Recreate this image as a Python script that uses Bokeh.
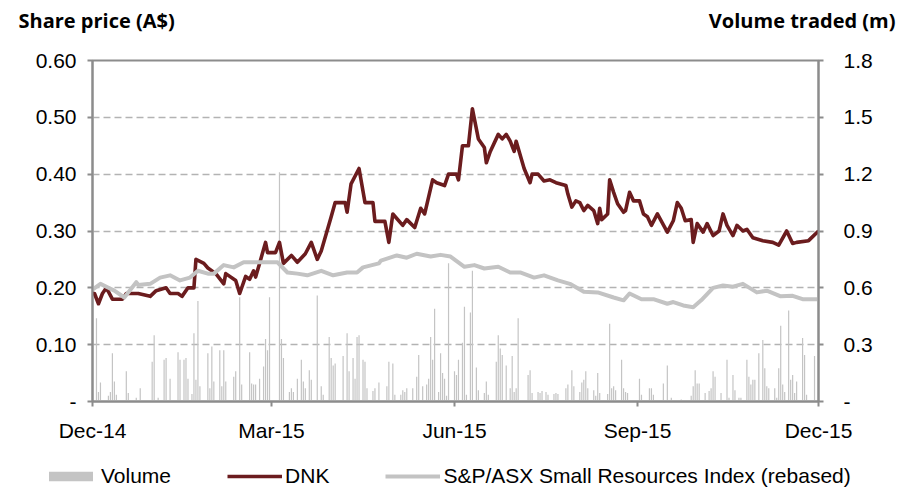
import pandas as pd
from bokeh.plotting import figure
from bokeh.layouts import column
from bokeh.core.properties import value
from bokeh.models import (Range1d, LinearAxis, FixedTicker, DatetimeTickFormatter,
                          PrintfTickFormatter, Legend, LegendItem, ColumnDataSource)
from bokeh.embed import file_html
from bokeh.resources import INLINE

# ---------------- data (days counted from 1 Dec 2014) ----------------
START = "2014-12-01"

dnk_day = [0, 1, 3, 5, 7, 10, 15, 17, 23, 29, 32, 37, 39, 43, 45, 48, 51, 52, 56, 58,
           62, 66, 67, 72, 74, 77, 79, 81, 82, 84, 87, 88, 92, 94, 96, 100, 103, 107, 110, 113,
           115, 120, 122, 127, 128, 130, 134, 137, 141, 142, 147, 149, 151, 156, 158, 162, 165, 167, 171, 173,
           177, 179, 183, 184, 186, 189, 191, 194, 197, 198, 200, 204, 206, 208, 210, 212, 213, 217, 220, 221,
           224, 227, 230, 233, 238, 239, 241, 243, 245, 247, 249, 252, 254, 255, 256, 259, 260, 262, 264, 267,
           268, 270, 272, 275, 277, 279, 281, 284, 289, 292, 294, 296, 298, 301, 302, 304, 307, 309, 312, 315,
           317, 319, 322, 324, 327, 329, 332, 337, 342, 345, 349, 352, 354, 360, 365]
dnk_price = [0.19, 0.19, 0.172, 0.19, 0.20, 0.18, 0.18, 0.19, 0.19, 0.185, 0.195, 0.20, 0.19, 0.19, 0.185, 0.20, 0.20, 0.25, 0.243, 0.235,
             0.225, 0.207, 0.225, 0.213, 0.19, 0.22, 0.215, 0.23, 0.219, 0.243, 0.28, 0.262, 0.262, 0.28, 0.243, 0.257, 0.245, 0.26, 0.28, 0.25,
             0.265, 0.325, 0.35, 0.35, 0.333, 0.383, 0.41, 0.35, 0.35, 0.317, 0.317, 0.28, 0.33, 0.31, 0.32, 0.306, 0.34, 0.33, 0.39, 0.385,
             0.38, 0.40, 0.40, 0.39, 0.45, 0.45, 0.515, 0.462, 0.447, 0.42, 0.44, 0.47, 0.462, 0.47, 0.458, 0.44, 0.458, 0.41, 0.385, 0.40,
             0.40, 0.388, 0.39, 0.385, 0.38, 0.365, 0.342, 0.353, 0.35, 0.336, 0.345, 0.336, 0.313, 0.34, 0.32, 0.33, 0.39, 0.368, 0.348, 0.333,
             0.336, 0.368, 0.353, 0.353, 0.33, 0.325, 0.31, 0.33, 0.298, 0.318, 0.35, 0.34, 0.318, 0.32, 0.28, 0.313, 0.298, 0.313, 0.292, 0.30,
             0.33, 0.31, 0.292, 0.31, 0.30, 0.303, 0.288, 0.283, 0.28, 0.275, 0.30, 0.278, 0.28, 0.283, 0.30]

idx_day = [0, 4, 8, 11, 16, 22, 23, 29, 34, 39, 44, 49, 53, 58, 61, 66, 71, 76, 83, 89,
           93, 98, 103, 108, 115, 121, 128, 133, 136, 144, 145, 153, 158, 163, 170, 175, 180, 187, 192, 197,
           204, 210, 215, 222, 227, 234, 240, 247, 254, 262, 267, 270, 276, 282, 289, 292, 297, 302, 306, 312,
           317, 322, 327, 334, 339, 346, 352, 357, 363, 365]
idx_value = [0.197, 0.207, 0.20, 0.195, 0.183, 0.21, 0.205, 0.207, 0.218, 0.222, 0.213, 0.218, 0.23, 0.225, 0.225, 0.24, 0.236, 0.245, 0.245, 0.245,
             0.245, 0.227, 0.225, 0.222, 0.23, 0.222, 0.227, 0.227, 0.236, 0.243, 0.248, 0.257, 0.253, 0.26, 0.255, 0.258, 0.255, 0.237, 0.24, 0.234,
             0.237, 0.227, 0.227, 0.218, 0.222, 0.213, 0.207, 0.193, 0.192, 0.183, 0.178, 0.19, 0.18, 0.18, 0.172, 0.175, 0.169, 0.166, 0.178, 0.20,
             0.204, 0.202, 0.207, 0.192, 0.195, 0.185, 0.186, 0.18, 0.18, 0.18]

vol_day = [2, 3, 4, 8, 9, 10, 11, 12, 17, 18, 22, 24, 30, 31, 33, 36, 37, 39, 43, 44,
           46, 47, 48, 50, 51, 52, 53, 54, 58, 59, 60, 61, 64, 65, 66, 67, 71, 72, 74, 75,
           79, 80, 81, 82, 84, 86, 87, 88, 89, 94, 95, 96, 99, 100, 101, 103, 105, 106, 107, 109,
           110, 113, 115, 116, 119, 120, 121, 122, 126, 128, 129, 131, 132, 133, 134, 136, 137, 138, 141, 142,
           144, 148, 149, 151, 152, 155, 156, 157, 158, 161, 163, 164, 166, 168, 169, 170, 171, 172, 174, 175,
           176, 177, 178, 179, 182, 183, 184, 186, 187, 188, 190, 191, 193, 194, 197, 198, 199, 203, 204, 205,
           206, 208, 210, 211, 212, 213, 214, 219, 220, 221, 224, 225, 226, 228, 229, 232, 233, 234, 238, 239,
           241, 242, 245, 246, 247, 248, 249, 252, 253, 254, 255, 259, 260, 261, 262, 263, 266, 267, 268, 269,
           275, 276, 280, 281, 282, 287, 289, 291, 296, 301, 302, 303, 304, 305, 308, 310, 311, 312, 313, 316,
           319, 320, 322, 323, 325, 326, 329, 330, 331, 332, 333, 335, 337, 338, 339, 340, 343, 344, 345, 346,
           347, 348, 350, 351, 352, 353, 354, 357, 358, 359, 363]
vol_m = [0.44, 0.05, 0.10, 0.03, 0.05, 0.255, 0.105, 0.035, 0.16, 0.045, 0.02, 0.07, 0.21, 0.35, 0.02, 0.22, 0.23, 0.12, 0.26, 0.22,
         0.22, 0.23, 0.12, 0.04, 0.36, 0.115, 0.53, 0.08, 0.255, 0.07, 0.29, 0.105, 0.27, 0.08, 0.27, 0.105, 0.13, 0.16, 0.55, 0.09,
         0.26, 0.095, 0.09, 0.09, 0.12, 0.185, 0.33, 0.27, 0.55, 1.21, 0.33, 0.23, 0.05, 0.07, 0.05, 0.12, 0.22, 0.105, 0.07, 0.165,
         0.115, 0.56, 0.08, 0.035, 0.34, 0.23, 0.19, 0.20, 0.24, 0.36, 0.16, 0.23, 0.12, 0.34, 0.35, 0.22, 0.21, 0.07, 0.055, 0.07,
         0.10, 0.08, 0.21, 0.20, 0.035, 0.035, 0.06, 0.05, 0.07, 0.07, 0.13, 0.245, 0.08, 0.09, 0.12, 0.34, 0.22, 0.49, 0.05, 0.255,
         0.15, 0.12, 0.03, 0.73, 0.16, 0.14, 0.22, 0.31, 0.50, 0.035, 0.47, 0.69, 0.18, 0.06, 0.045, 0.105, 0.035, 0.21, 0.35, 0.28,
         0.245, 0.19, 0.07, 0.24, 0.05, 0.07, 0.44, 0.14, 0.165, 0.045, 0.05, 0.045, 0.055, 0.05, 0.035, 0.04, 0.045, 0.04, 0.07, 0.09,
         0.165, 0.08, 0.05, 0.10, 0.115, 0.16, 0.07, 0.06, 0.03, 0.15, 0.045, 0.04, 0.41, 0.07, 0.08, 0.06, 0.22, 0.07, 0.05, 0.045,
         0.12, 0.035, 0.07, 0.07, 0.035, 0.095, 0.19, 0.02, 0.01, 0.03, 0.08, 0.165, 0.095, 0.095, 0.045, 0.055, 0.07, 0.16, 0.13, 0.045,
         0.22, 0.02, 0.14, 0.06, 0.02, 0.02, 0.22, 0.13, 0.09, 0.115, 0.115, 0.255, 0.325, 0.175, 0.08, 0.07, 0.07, 0.02, 0.175, 0.40,
         0.09, 0.05, 0.48, 0.115, 0.14, 0.045, 0.105, 0.335, 0.245, 0.035, 0.24]

x_tick_dates = ["2014-12-01", "2015-03-01", "2015-06-01", "2015-09-01", "2015-12-01"]
price_ticks = [0.0, 0.1, 0.2, 0.3, 0.4, 0.5, 0.6]
vol_ticks = [0.0, 0.3, 0.6, 0.9, 1.2, 1.5, 1.8]
left_title = "Share price (A$)"
right_title = "Volume traded (m)"
series_names = ["Volume", "DNK", "S&P/ASX Small Resources Index (rebased)"]

# ---------------- styles ----------------
AX = "#8c8c8c"
FONT = "Liberation Sans"
FS = "21px"
DNK_COLOR = "#6b1c1e"
IDX_COLOR = "#c3c3c3"
VOL_COLOR = "#c4c4c4"
W = 912

# ---------------- main chart ----------------
start = pd.Timestamp(START)
def to_dates(days):
    return start + pd.to_timedelta(days, unit="D")

dnk_src = ColumnDataSource(dict(x=to_dates(dnk_day), y=dnk_price))
idx_src = ColumnDataSource(dict(x=to_dates(idx_day), y=idx_value))
vol_src = ColumnDataSource(dict(x=to_dates(vol_day), top=vol_m))

x0 = pd.Timestamp(x_tick_dates[0])
x1 = pd.Timestamp(x_tick_dates[-1])

p = figure(width=W, height=410, x_axis_type="datetime",
           x_range=Range1d(x0, x1), y_range=Range1d(0, 0.6),
           output_backend="svg", toolbar_location=None,
           min_border_left=92, min_border_right=94, min_border_top=20, min_border_bottom=49)
p.extra_y_ranges = {"vol": Range1d(0, 1.8)}
p.background_fill_color = "white"
p.border_fill_color = "white"
p.outline_line_color = AX
p.outline_line_width = 2

def style_axis(a, standoff):
    a.axis_line_color = AX
    a.axis_line_width = 2
    a.major_tick_line_color = AX
    a.major_tick_line_width = 2
    a.major_tick_out = 5
    a.major_tick_in = 0
    a.minor_tick_line_color = None
    a.major_label_text_font = FONT
    a.major_label_text_font_size = FS
    a.major_label_text_color = "black"
    a.major_label_standoff = standoff

ya = p.yaxis[0]
ya.ticker = FixedTicker(ticks=price_ticks)
ya.formatter = PrintfTickFormatter(format="%.2f")
ya.major_label_overrides = {0.0: "-"}
style_axis(ya, 11)

ra = LinearAxis(y_range_name="vol", ticker=FixedTicker(ticks=vol_ticks),
                formatter=PrintfTickFormatter(format="%.1f"))
ra.major_label_overrides = {0.0: "-"}
style_axis(ra, 20)
p.add_layout(ra, "right")

xa = p.xaxis[0]
xa.ticker = FixedTicker(ticks=[pd.Timestamp(d).value / 1e6 for d in x_tick_dates])
xa.formatter = DatetimeTickFormatter(days="%b-%y", months="%b-%y", years="%b-%y",
                                     hours="%b-%y", minutes="%b-%y", seconds="%b-%y")
style_axis(xa, 12)

p.xgrid.grid_line_color = None
p.ygrid.ticker = FixedTicker(ticks=price_ticks[1:-1])
p.ygrid.grid_line_color = "#b3b3b3"
p.ygrid.grid_line_width = 1.5
p.ygrid.grid_line_dash = "7 4"

day_ms = 86400000
p.vbar(x="x", top="top", width=0.6 * day_ms, source=vol_src, y_range_name="vol",
       fill_color=VOL_COLOR, line_color=None)
p.line("x", "y", source=dnk_src, line_color=DNK_COLOR, line_width=3.6, line_join="round")
p.line("x", "y", source=idx_src, line_color=IDX_COLOR, line_width=4.0, line_join="round")

# ---------------- strips above and below (titles, legend) ----------------
def strip(height):
    f = figure(width=W, height=height, x_range=Range1d(0, W), y_range=Range1d(0, height),
               x_axis_location=None, y_axis_location=None, output_backend="svg",
               toolbar_location=None, min_border=0,
               min_border_left=0, min_border_right=0, min_border_top=0, min_border_bottom=0)
    try:
        f.frame_align = False
    except Exception:
        pass
    f.outline_line_color = None
    f.grid.grid_line_color = None
    f.background_fill_color = "white"
    f.border_fill_color = "white"
    return f

top = strip(40)
top.text(x=[18], y=[20], text=[left_title], text_font=value("Open Sans"),
         text_font_style="bold", text_font_size="20px", text_color="black",
         text_align="left", text_baseline="alphabetic")
top.text(x=[895], y=[20], text=[right_title], text_font=value("Open Sans"),
         text_font_style="bold", text_font_size="20px", text_color="black",
         text_align="right", text_baseline="alphabetic")

bot = strip(37)
# legend-only renderers, their single points lie outside the strip's visible range
r_vol = bot.vbar(x=[-50], top=[-50], bottom=[-60], width=1, fill_color=VOL_COLOR, line_color=None)
r_dnk = bot.line(x=[-50, -40], y=[-50, -50], line_color=DNK_COLOR, line_width=3.6)
r_idx = bot.line(x=[-50, -40], y=[-50, -50], line_color=IDX_COLOR, line_width=4.0)
legend = Legend(items=[LegendItem(label=series_names[0], renderers=[r_vol]),
                       LegendItem(label=series_names[1], renderers=[r_dnk]),
                       LegendItem(label=series_names[2], renderers=[r_idx])],
                orientation="horizontal", location=(43, -1),
                glyph_width=55, glyph_height=12, label_standoff=3, spacing=56,
                padding=0, margin=0, border_line_color=None, background_fill_alpha=0,
                label_text_font=FONT, label_text_font_size=FS, label_text_color="black",
                label_height=18)
bot.add_layout(legend, "center")

layout = column(top, p, bot, spacing=0)
open("out.html", "w").write(file_html(layout, INLINE))
